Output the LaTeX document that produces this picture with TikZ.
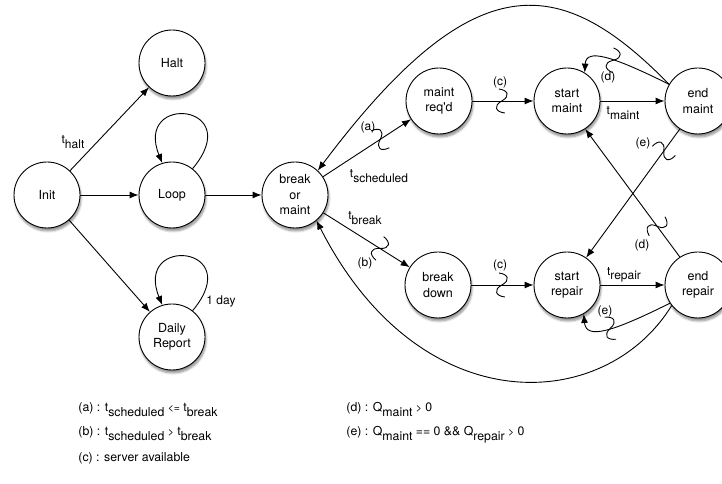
\documentclass[tikz,border=0pt]{standalone}
\usepackage{fontspec}
\setmainfont{TeX Gyre Heros}
\usetikzlibrary{arrows.meta,shadows.blur}
\newcommand{\tsub}[2]{#1\raisebox{-0.35em}{#2}}
\newcommand{\rel}[1]{{\fontsize{10.5}{12}\selectfont\raisebox{0.15ex}{#1}}}
\tikzset{
  phase/.style={circle, draw, fill=white, minimum size=66pt, inner sep=0pt,
    align=center, font=\fontsize{12.5}{15.5}\selectfont,
    blur shadow={shadow xshift=1pt, shadow yshift=-3pt, shadow blur steps=6, shadow opacity=45}},
  lbl/.style={font=\fontsize{12}{14}\selectfont, inner sep=0pt},
  legend/.style={font=\fontsize{12.3}{14}\selectfont, anchor=base west, inner sep=0pt},
  squig/.pic={\draw[-] (-3,12) .. controls (6,11) and (9,5) .. (0,0) .. controls (-9,-5) and (-6,-11) .. (3,-12);},
}

\begin{document}
\begin{tikzpicture}[x=1pt, y=1pt, line width=0.9pt, >={Latex[length=9pt,width=7pt]}]
        \useasboundingbox (0,0) rectangle (722,484);
        % States of the simulation
        \node[phase] (init) at (47,289) {Init};
        \node[phase] (halt) at (172,421) {Halt};
        \node[phase] (loop) at (172,289) {Loop};
        \node[phase] (daily) at (172,147) {Daily\\Report};
        \node[phase] (bom) at (295,289) {break\\or\\maint};
        \node[phase] (mreq) at (439,383) {maint\\req\textquotesingle d};
        \node[phase] (bdown) at (438,199) {break\\down};
        \node[phase] (smaint) at (567,383) {start\\maint};
        \node[phase] (emaint) at (698,383) {end\\maint};
        \node[phase] (srepair) at (567,199) {start\\repair};
        \node[phase] (erepair) at (698,199) {end\\repair};
        % Transitions on the left
        \draw[->] (init) -- (halt);
        \draw[->] (init) -- (loop);
        \draw[->] (init) -- (daily);
        \draw[->] (loop.52) .. controls +(50:85) and +(112:76) .. (loop.107);
        \draw[->] (daily.52) .. controls +(50:85) and +(112:76) .. (daily.107);
        \draw[->] (loop) -- (bom);
        % Transitions with conditions
        \draw[->] (bom) -- (mreq) pic[pos=0.65, sloped]{squig};
        \draw[->] (bom) -- (bdown) pic[pos=0.655, sloped]{squig};
        \draw[->] (mreq) -- (smaint) pic[pos=0.48]{squig};
        \draw[->] (bdown) -- (srepair) pic[pos=0.49]{squig};
        \draw[->] (smaint) -- (emaint);
        \draw[->] (srepair) -- (erepair);
        \draw[->] (emaint.150) .. controls (612,428) and (586,436) .. (smaint.58) pic[pos=0.42, sloped]{squig};
        \draw[->] (erepair.213) .. controls (612,152) and (586,144) .. (srepair.300) pic[pos=0.45, sloped]{squig};
        \draw[->] (emaint.237) -- (srepair.55) pic[pos=0.17, sloped]{squig};
        \draw[->] (erepair.123) -- (smaint.303) pic[pos=0.24, sloped]{squig};
        \draw[->] (emaint.150) .. controls (561,510) and (475,523) .. (bom.47);
        \draw[->] (erepair.218) .. controls (605,70) and (420,60) .. (bom.310);
        % Labels of the transitions
        \node[lbl] (thalt) at (73,342) {\tsub{t}{halt}};
        \node[lbl] (oneday) at (221,183) {1 day};
        \node[lbl] (la) at (368,357) {(a)};
        \node[lbl] (tsched) at (379,308) {\tsub{t}{scheduled}};
        \node[lbl] (tbreak) at (365,266) {\tsub{t}{break}};
        \node[lbl] (lb) at (365,221) {(b)};
        \node[lbl] (lc1) at (500,402) {(c)};
        \node[lbl] (lc2) at (500,219) {(c)};
        \node[lbl] (ld1) at (608,407) {(d)};
        \node[lbl] (tmaint) at (623,371) {\tsub{t}{maint}};
        \node[lbl] (le1) at (643,341) {(e)};
        \node[lbl] (ld2) at (642,239) {(d)};
        \node[lbl] (trepair) at (624,209) {\tsub{t}{repair}};
        \node[lbl] (le2) at (605,173) {(e)};
        % Legend
        \node[legend] (keya) at (78,72) {(a) : \tsub{t}{scheduled} \rel{<=} \tsub{t}{break}};
        \node[legend] (keyb) at (78,48) {(b) : \tsub{t}{scheduled} \rel{>} \tsub{t}{break}};
        \node[legend] (keyc) at (78,22) {(c) : server available};
        \node[legend] (keyd) at (346,72) {(d) : \tsub{Q}{maint} \rel{>} 0};
        \node[legend] (keye) at (346,48) {(e) : \tsub{Q}{maint} == 0 \&\& \tsub{Q}{repair} \rel{>} 0};
    \end{tikzpicture}
\end{document}
